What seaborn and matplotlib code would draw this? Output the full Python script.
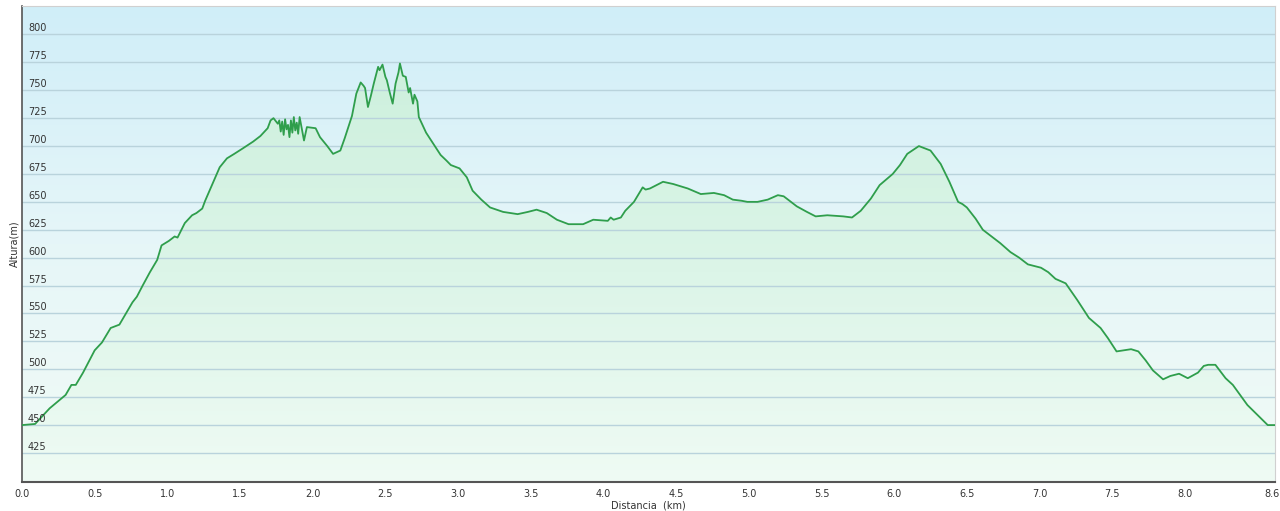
import numpy as np
import pandas as pd
import seaborn as sns
import matplotlib.pyplot as plt
from matplotlib.colors import LinearSegmentedColormap

# perfil de altura: distancia (km) y altura (m)
distancia = [
    0.00, 0.09, 0.19, 0.30, 0.34, 0.37, 0.42, 0.50, 0.55, 0.61, 0.67, 0.76, 0.79,
    0.83, 0.88, 0.93, 0.96, 1.01, 1.05, 1.07, 1.12, 1.17, 1.20, 1.24, 1.26, 1.31,
    1.36, 1.41, 1.46, 1.52, 1.59, 1.64, 1.69, 1.71, 1.73, 1.76, 1.77, 1.78, 1.79,
    1.80, 1.81, 1.82, 1.83, 1.84, 1.85, 1.86, 1.87, 1.88, 1.89, 1.90, 1.91, 1.94,
    1.96, 2.02, 2.05, 2.10, 2.14, 2.19, 2.22, 2.27, 2.30, 2.33, 2.35, 2.36, 2.38,
    2.40, 2.42, 2.45, 2.46, 2.48, 2.50, 2.51, 2.53, 2.55, 2.57, 2.59, 2.60, 2.62,
    2.64, 2.66, 2.67, 2.69, 2.70, 2.72, 2.73, 2.78, 2.83, 2.88, 2.92, 2.95, 3.01,
    3.06, 3.10, 3.16, 3.22, 3.31, 3.41, 3.48, 3.54, 3.61, 3.68, 3.76, 3.86, 3.93,
    4.03, 4.05, 4.07, 4.12, 4.15, 4.21, 4.27, 4.29, 4.32, 4.41, 4.48, 4.58, 4.67,
    4.76, 4.83, 4.89, 4.95, 4.99, 5.06, 5.13, 5.20, 5.24, 5.33, 5.40, 5.46, 5.54,
    5.65, 5.71, 5.77, 5.84, 5.90, 5.99, 6.04, 6.09, 6.17, 6.25, 6.32, 6.38, 6.44,
    6.47, 6.50, 6.56, 6.61, 6.73, 6.80, 6.86, 6.92, 7.01, 7.06, 7.11, 7.18, 7.26,
    7.34, 7.42, 7.47, 7.53, 7.63, 7.68, 7.73, 7.78, 7.85, 7.90, 7.96, 8.02, 8.09,
    8.13, 8.16, 8.21, 8.28, 8.33, 8.43, 8.50, 8.57, 8.62,
]
altura = [
    450, 451, 465, 477, 486, 486, 497, 517, 524, 537, 540, 560, 565,
    575, 587, 598, 611, 615, 619, 618, 631, 638, 640, 644, 651, 666,
    681, 689, 693, 698, 704, 709, 716, 723, 725, 720, 723, 713, 722,
    710, 724, 715, 719, 708, 723, 712, 726, 714, 721, 711, 726, 705,
    717, 716, 708, 700, 693, 696, 707, 727, 747, 757, 754, 752, 735,
    745, 756, 771, 768, 773, 762, 759, 748, 738, 756, 766, 774, 763,
    762, 748, 752, 738, 746, 740, 726, 712, 702, 692, 687, 683, 680,
    672, 660, 652, 645, 641, 639, 641, 643, 640, 634, 630, 630, 634,
    633, 636, 634, 636, 642, 650, 663, 661, 662, 668, 666, 662, 657,
    658, 656, 652, 651, 650, 650, 652, 656, 655, 646, 641, 637, 638,
    637, 636, 642, 653, 665, 675, 683, 693, 700, 696, 684, 668, 650,
    648, 645, 635, 625, 613, 605, 600, 594, 591, 587, 581, 577, 562,
    546, 537, 528, 516, 518, 516, 508, 499, 491, 494, 496, 492, 497,
    503, 504, 504, 492, 486, 468, 459, 450, 450,
]

xticks = [0.0, 0.5, 1.0, 1.5, 2.0, 2.5, 3.0, 3.5, 4.0, 4.5, 5.0, 5.5,
          6.0, 6.5, 7.0, 7.5, 8.0, 8.6]
yticks = [425, 450, 475, 500, 525, 550, 575, 600, 625, 650, 675, 700,
          725, 750, 775, 800]

df = pd.DataFrame({'distancia': distancia, 'altura': altura})

sns.set_style('white')
plt.rcParams['font.family'] = ['DejaVu Sans']

fig = plt.figure(figsize=(12.8, 5.11), dpi=100)
ax = fig.add_axes([22 / 1280, 29 / 511, 1253 / 1280, 476 / 511])

xmin, xmax = 0, 8.62
ymin, ymax = 399, 825.5
ax.set_xlim(xmin, xmax)
ax.set_ylim(ymin, ymax)

# fondo degradado (azul arriba, blanco verdoso abajo)
bg = LinearSegmentedColormap.from_list('bg', ['#f1fbf6', '#e6f6f8', '#d0eef9'])
grad = np.linspace(0, 1, 256).reshape(-1, 1)
ax.imshow(grad, cmap=bg, origin='lower', aspect='auto',
          extent=[xmin, xmax, ymin, ymax], zorder=0)

# relleno degradado bajo la linea
poly = ax.fill_between(df['distancia'], df['altura'], ymin, color='none', zorder=1)
fill = LinearSegmentedColormap.from_list('fill', ['#effbf4', '#dcf5e8', '#cdf0dd'])
im = ax.imshow(grad, cmap=fill, origin='lower', aspect='auto',
               extent=[xmin, xmax, ymin, 775], zorder=1)
im.set_clip_path(poly.get_paths()[0], transform=ax.transData)

for y in yticks:
    ax.axhline(y, color='#b9d3dc', lw=1, zorder=2)

sns.lineplot(data=df, x='distancia', y='altura', color='#2f9e4c', lw=1.3,
             ax=ax, zorder=3)

ax.set_xticks(xticks)
ax.set_xticklabels([f'{t:.1f}' for t in xticks], fontsize=7, color='#333333')
ax.tick_params(axis='x', length=4, width=1, color='#555555', pad=1)

# etiquetas del eje y dentro del grafico, encima de cada linea
ax.set_yticks(yticks)
ax.set_yticklabels([])
ax.tick_params(axis='y', length=0)
for y in yticks:
    ax.annotate(str(y), xy=(0, y), xycoords=('axes fraction', 'data'),
                xytext=(6, 1), textcoords='offset pixels', ha='left',
                va='bottom', fontsize=7, color='#333333', zorder=4)

ax.set_xlabel('Distancia  (km)', fontsize=7, color='#333333', labelpad=1)
ax.set_ylabel('Altura(m)', fontsize=7, color='#333333', labelpad=-2)

ax.spines['left'].set_color('#555555')
ax.spines['left'].set_linewidth(1.2)
ax.spines['bottom'].set_color('#555555')
ax.spines['bottom'].set_linewidth(1.5)
ax.spines['top'].set_color('#d0d0d0')
ax.spines['right'].set_color('#d0d0d0')

plt.savefig('out.png', dpi=100)
